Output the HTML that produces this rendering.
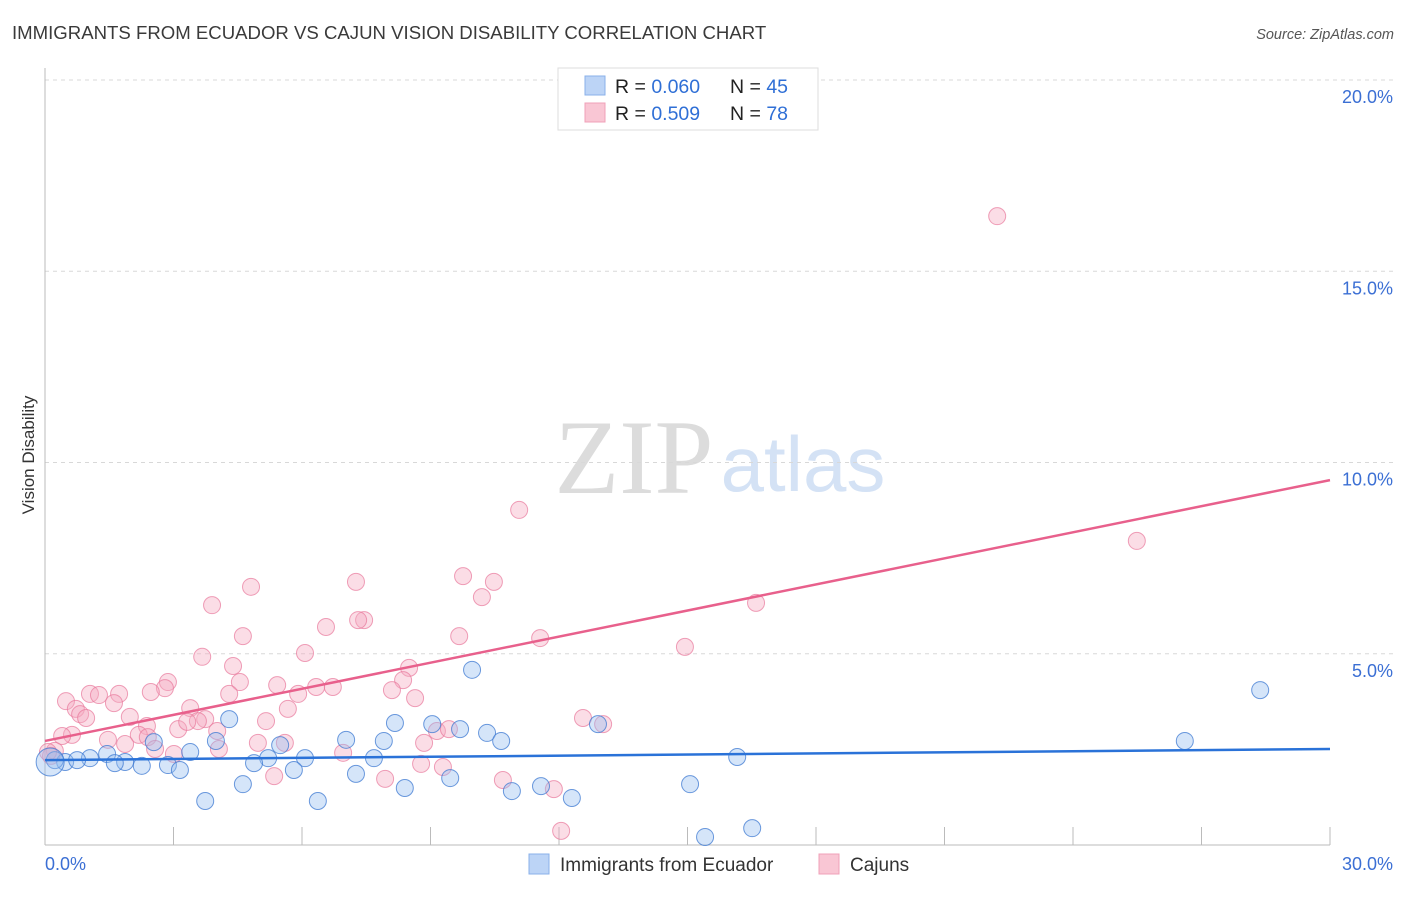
<!DOCTYPE html>
<html><head><meta charset="utf-8"><style>
body{margin:0;background:#fff;font-family:"Liberation Sans",sans-serif;}
</style></head><body>
<svg id="chart" width="1406" height="892" xmlns="http://www.w3.org/2000/svg" font-family="Liberation Sans, sans-serif">
<text x="12" y="39" font-size="18.6" fill="#3a3a3a">IMMIGRANTS FROM ECUADOR VS CAJUN VISION DISABILITY CORRELATION CHART</text>
<text x="1394" y="39" font-size="14.5" fill="#555" text-anchor="end" font-style="italic">Source: ZipAtlas.com</text>
<text transform="translate(34,455) rotate(-90)" font-size="17" fill="#333" text-anchor="middle">Vision Disability</text>
<g>
<text x="634" y="493" font-family="Liberation Serif, serif" font-size="106" fill="#dcdcdc" text-anchor="middle">ZIP</text>
<text x="803" y="491" font-size="78" fill="#d4e2f5" text-anchor="middle">atlas</text>
</g>
<g id="grid"></g>
<g id="axes"></g>
<g id="marks"></g>
<g>
<rect x="558" y="68" width="260" height="62" fill="#fff" stroke="#ddd"/>
<rect x="585" y="76" width="20" height="19" fill="#bcd4f6" stroke="#8ab0ea"/>
<rect x="585" y="103" width="20" height="19" fill="#f9c6d4" stroke="#f0a0b8"/>
<text x="615" y="93" font-size="19.5" fill="#222">R = <tspan fill="#2f6fd6">0.060</tspan><tspan x="730">N = </tspan><tspan fill="#2f6fd6">45</tspan></text>
<text x="615" y="120" font-size="19.5" fill="#222">R = <tspan fill="#2f6fd6"> 0.509</tspan><tspan x="730">N = </tspan><tspan fill="#2f6fd6"> 78</tspan></text>
</g>
<g>
<rect x="529" y="854" width="20" height="20" fill="#bcd4f6" stroke="#8ab0ea"/>
<text x="560" y="871" font-size="19" fill="#333">Immigrants from Ecuador</text>
<rect x="819" y="854" width="20" height="20" fill="#f9c6d4" stroke="#f0a0b8"/>
<text x="850" y="871" font-size="19" fill="#333">Cajuns</text>
</g>
</svg>
<script>
const xTicks=[0,3,6,9,12,15,18,21,24,27,30];
const yTicks=[5,10,15,20];
const cajunX=[22.23,11.07,25.49,16.60,14.94,9.76,10.48,10.20,7.26,4.81,3.90,7.45,7.31,6.56,11.56,9.67,4.62,3.67,6.07,4.39,8.50,2.87,2.80,4.55,5.42,8.36,6.33,6.72,8.10,4.30,5.91,8.64,1.05,1.26,1.73,2.47,0.49,1.61,0.72,0.82,0.96,3.39,5.67,1.98,3.74,3.57,3.11,3.32,2.38,5.16,12.56,13.03,0.63,0.40,1.47,2.19,1.87,4.02,2.40,9.15,9.43,8.85,5.60,4.97,4.06,2.57,6.96,3.01,0.23,0.14,7.94,5.35,9.29,8.78,10.69,11.88,12.05,0.07];
const cajunY=[16.44,8.76,7.95,6.33,5.18,7.03,6.88,6.48,6.88,6.75,6.27,5.88,5.88,5.70,5.41,5.46,5.46,4.92,5.02,4.68,4.63,4.26,4.10,4.26,4.18,4.31,4.13,4.13,4.05,3.95,3.95,3.84,3.95,3.92,3.95,4.00,3.76,3.71,3.56,3.42,3.32,3.58,3.56,3.35,3.29,3.24,3.03,3.22,3.11,3.24,3.32,3.16,2.88,2.85,2.75,2.88,2.64,2.98,2.82,2.98,3.03,2.67,2.67,2.67,2.51,2.51,2.41,2.38,2.46,2.33,1.73,1.80,2.04,2.12,1.70,1.46,0.37,2.43];
const ecuadorX=[28.37,9.97,12.91,9.04,9.69,10.32,4.30,8.17,7.03,7.91,10.65,5.49,2.54,3.99,26.61,16.16,3.39,1.45,1.05,0.47,0.75,0.23,5.21,6.07,4.88,7.68,1.87,1.63,2.26,2.87,3.15,5.81,7.26,9.46,4.62,11.58,15.06,8.40,10.90,12.30,3.74,6.37,15.41,16.51,0.12];
const ecuadorY=[4.05,4.58,3.16,3.16,3.03,2.93,3.29,3.19,2.75,2.72,2.72,2.61,2.69,2.72,2.72,2.30,2.43,2.38,2.27,2.17,2.22,2.22,2.27,2.27,2.14,2.27,2.17,2.14,2.07,2.09,1.96,1.96,1.86,1.75,1.59,1.54,1.59,1.49,1.41,1.23,1.15,1.15,0.21,0.44,2.17];
const cajunTrend=[2.72,9.54];
const ecuadorTrend=[2.22,2.51];
const NS='http://www.w3.org/2000/svg';
const X0=45,X1=1330,Y0=845,Y1=80;
function sx(v){return X0+(v/30)*(X1-X0);}
function sy(v){return Y0-(v/20)*(Y0-Y1);}
function mk(tag,attrs,parent){const e=document.createElementNS(NS,tag);for(const k in attrs)e.setAttribute(k,attrs[k]);parent.appendChild(e);return e;}
const grid=document.getElementById('grid'),axes=document.getElementById('axes'),marks=document.getElementById('marks');
yTicks.forEach(t=>{
 const l=mk('line',{x1:X0,x2:1395,y1:sy(t),y2:sy(t),stroke:'#d8d8d8','stroke-dasharray':'4,4'},grid);
 
 
 const tx=mk('text',{x:1393,y:sy(t)+23,'font-size':18,fill:'#3b6fd4','text-anchor':'end'},axes);
 tx.textContent=t.toFixed(1)+'%';
 
 
});
const ya=mk('line',{x1:X0,x2:X0,y1:68,y2:Y0,stroke:'#bbb'},axes);


const xa=mk('line',{x1:X0,x2:X1,y1:Y0,y2:Y0,stroke:'#bbb'},axes);


xTicks.forEach(t=>{if(t===0)return;
 const l=mk('line',{x1:sx(t),x2:sx(t),y1:827,y2:Y0,stroke:'#bbb'},axes);
 
 
});
const xl0=mk('text',{x:45,y:870,'font-size':18,fill:'#3b6fd4'},axes);xl0.textContent=xTicks[0].toFixed(1)+'%';


const xl1=mk('text',{x:1393,y:870,'font-size':18,fill:'#3b6fd4','text-anchor':'end'},axes);xl1.textContent=xTicks[xTicks.length-1].toFixed(1)+'%';


cajunX.forEach((x,i)=>{
 const c=mk('circle',{cx:sx(x),cy:sy(cajunY[i]),r:8.5,fill:'rgba(246,170,193,0.4)',stroke:'rgba(232,120,155,0.7)','stroke-width':1},marks);
 
 
});
ecuadorX.forEach((x,i)=>{
 const big=(i===ecuadorX.length-1);
 const c=mk('circle',{cx:sx(x),cy:sy(ecuadorY[i]),r:big?14:8.5,fill:'rgba(150,190,240,0.4)',stroke:'rgba(60,120,210,0.75)','stroke-width':1},marks);
 
 
});
const tp=mk('line',{x1:sx(0),y1:sy(cajunTrend[0]),x2:sx(30),y2:sy(cajunTrend[1]),stroke:'#e8608c','stroke-width':2.5},marks);


const tb=mk('line',{x1:sx(0),y1:sy(ecuadorTrend[0]),x2:sx(30),y2:sy(ecuadorTrend[1]),stroke:'#2a72d8','stroke-width':2.5},marks);


</script>
</body></html>
